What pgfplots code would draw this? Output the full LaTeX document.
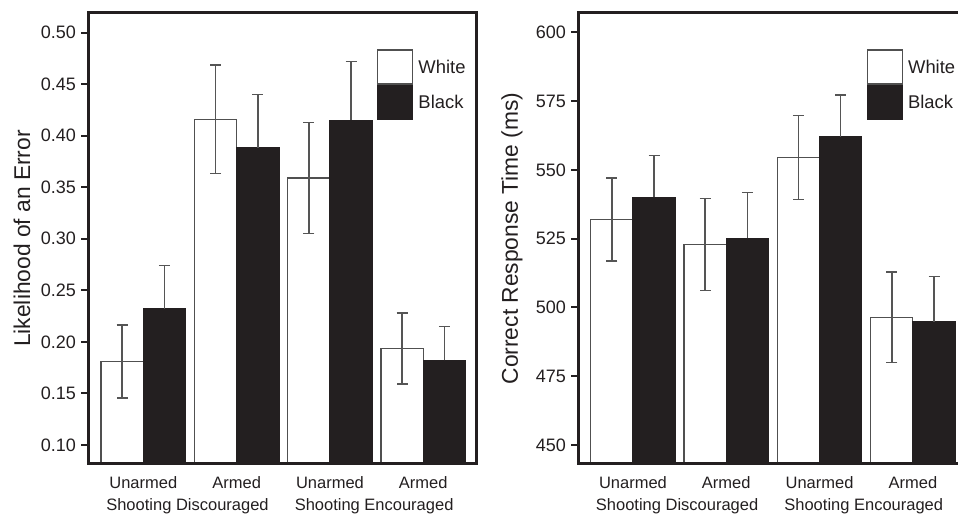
\documentclass[border=0pt]{standalone}
\usepackage{fontspec}
\setmainfont{Liberation Sans}
\usepackage{pgfplots}
\pgfplotsset{compat=1.18}
\definecolor{ink}{HTML}{231F20}
\definecolor{errc}{HTML}{555555}
\definecolor{wedge}{HTML}{505050}
\tikzset{grp/.style={font=\fontsize{16.5bp}{20bp}\selectfont, text=ink, anchor=base, xshift=-2.5bp, yshift=-46.7bp}}
\pgfplotsset{
 panel/.style={
  scale only axis, ybar, axis on top, clip mode=individual,
  height=451bp,
  axis line style={ink, line width=3bp},
  xtick={0,1,2,3}, xticklabels={Unarmed,Armed,Unarmed,Armed},
  xtick style={draw=none},
  xticklabel style={font=\fontsize{16.5bp}{20bp}\selectfont, text=ink, inner sep=0pt, yshift=-5.7bp},
  ytick pos=left, tick align=outside, major tick length=7bp,
  ytick style={ink, line width=2bp},
  yticklabel style={font=\fontsize{18bp}{21bp}\selectfont, text=ink, inner sep=0pt, xshift=-5bp},
  /pgf/number format/assume math mode=true,
  every axis y label/.style={at={(rel axis cs:0,0.5)}, rotate=90, anchor=center, yshift=66bp, font=\fontsize{22.8bp}{26bp}\selectfont, text=ink},
  bar width=0.453,
  legend style={draw=none, fill=none, inner sep=0pt, row sep=0pt, column sep=5.4bp,
    nodes={inner sep=0pt}, font=\fontsize{18.4bp}{22bp}\selectfont, text=ink,
    cells={anchor=west}, anchor=north west},
  legend image code/.code={\draw[##1] (0bp,-17bp) rectangle (35bp,17bp);},
 },
 wbar/.style={fill=white, draw=wedge, line width=1.2bp, bar shift=-0.2265,
   error bars/.cd, y dir=both, y explicit,
   error bar style={errc, line width=1.5bp},
   error mark options={rotate=90, errc, mark size=5.5bp, line width=1.5bp}},
 bbar/.style={fill=ink, draw=ink, line width=1.2bp, bar shift=0.2265,
   error bars/.cd, y dir=plus, y explicit,
   error bar style={errc, line width=1.5bp},
   error mark options={rotate=90, errc, mark size=5.5bp, line width=1.5bp}},
}
\begin{document}
\begin{tikzpicture}[x=1bp,y=1bp]
\begin{axis}[panel,
  at={(88bp,51bp)}, anchor=south west, width=388bp,
  xmin=-0.593, xmax=3.565, ymin=0.0816, ymax=0.519,
  ytick={0.10,0.15,0.20,0.25,0.30,0.35,0.40,0.45,0.50},
  yticklabel style={/pgf/number format/.cd, fixed, fixed zerofill, precision=2},
  ylabel={Likelihood of an Error},
  legend style={at={(0.744,0.9195)}},
]
\addplot[wbar] coordinates {(0,0.181) +- (0,0.0355) (1,0.416) +- (0,0.0525) (2,0.359) +- (0,0.054) (3,0.1935) +- (0,0.0345)};
\addplot[bbar] coordinates {(0,0.232) +- (0,0.042) (1,0.388) +- (0,0.052) (2,0.415) +- (0,0.057) (3,0.182) +- (0,0.033)};
\legend{White,Black}
\node[grp] at (axis cs:0.5,0.0816) {Shooting Discouraged};
\node[grp] at (axis cs:2.5,0.0816) {Shooting Encouraged};
\end{axis}
\begin{axis}[panel,
  at={(578bp,51bp)}, anchor=south west, width=383.4bp,
  xmin=-0.589, xmax=3.52, ymin=443.09, ymax=607.03,
  ytick={450,475,500,525,550,575,600},
  ylabel={Correct Response Time (ms)},
  legend style={at={(0.752,0.9195)}},
]
\addplot[wbar] coordinates {(0,532.0) +- (0,15.05) (1,522.85) +- (0,16.75) (2,554.5) +- (0,15.2) (3,496.45) +- (0,16.45)};
\addplot[bbar] coordinates {(0,540.0) +- (0,15.3) (1,525.1) +- (0,16.7) (2,562.0) +- (0,15.2) (3,494.8) +- (0,16.4)};
\legend{White,Black}
\node[grp] at (axis cs:0.5,443.09) {Shooting Discouraged};
\node[grp] at (axis cs:2.5,443.09) {Shooting Encouraged};
\end{axis}
\pgfresetboundingbox
\useasboundingbox (0,0) rectangle (958,515);
\end{tikzpicture}
\end{document}
